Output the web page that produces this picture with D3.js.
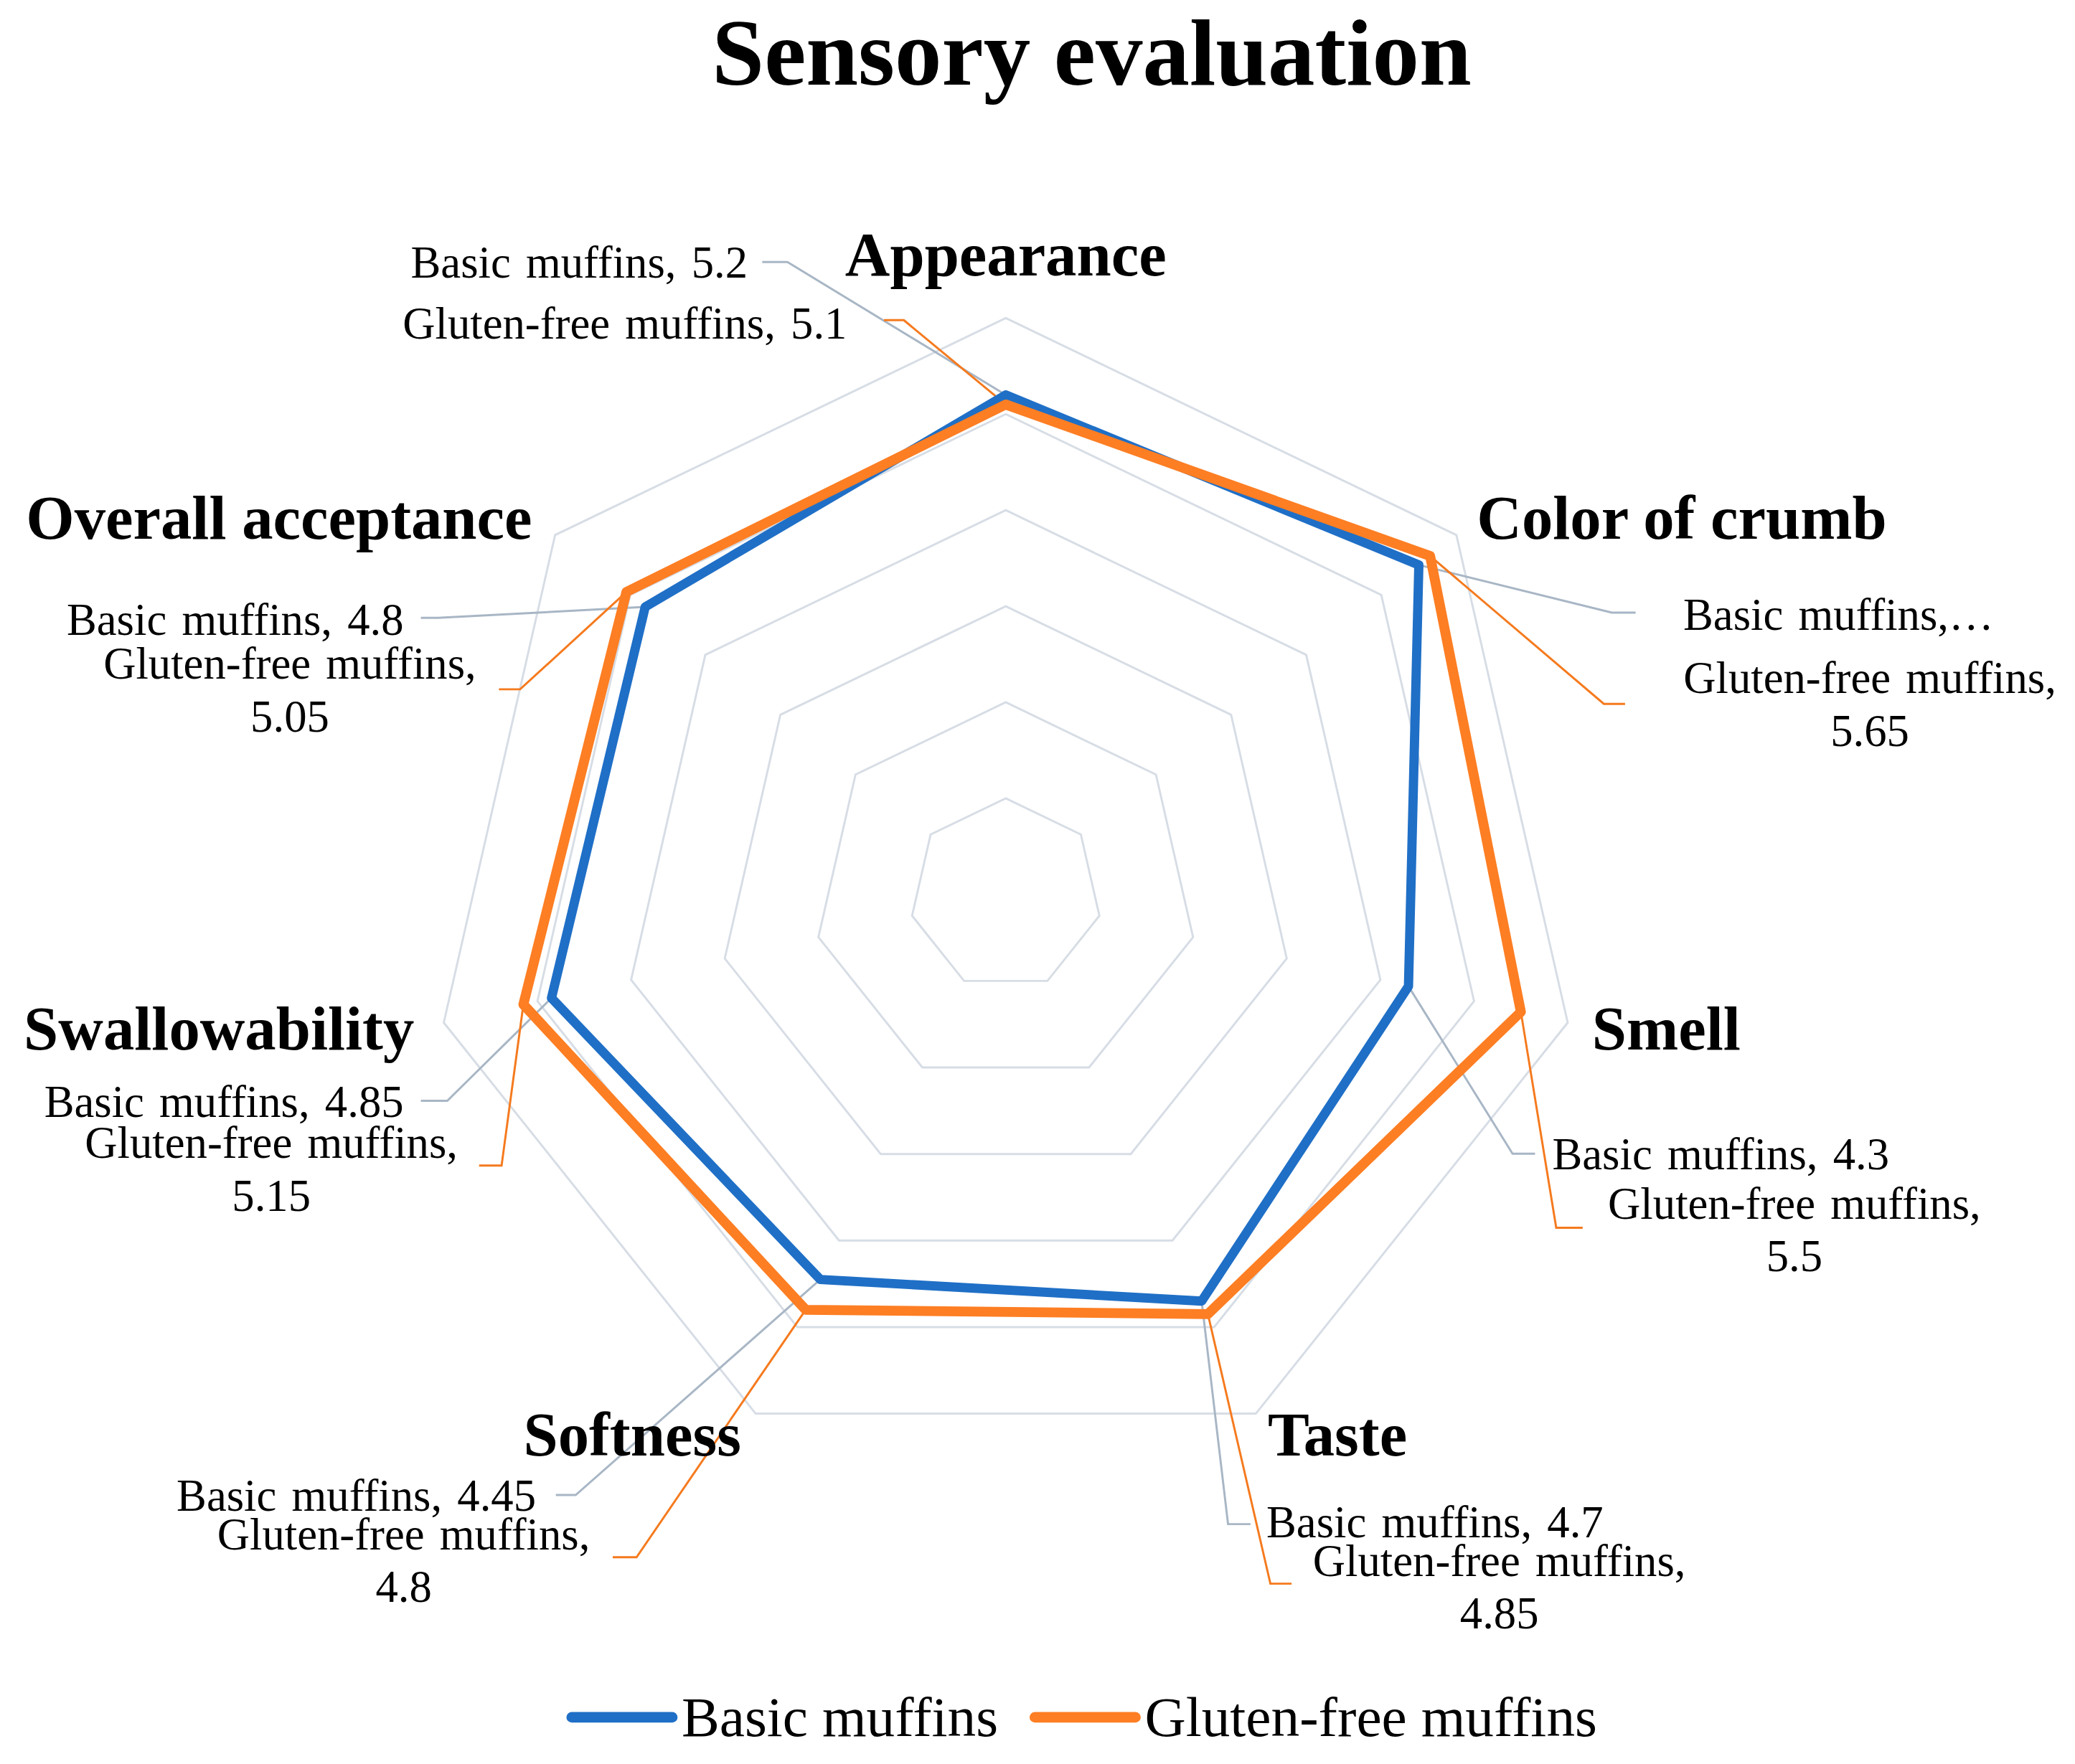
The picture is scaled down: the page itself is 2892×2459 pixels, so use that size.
<!DOCTYPE html>
<html>
<head>
<meta charset="utf-8">
<script src="https://cdn.jsdelivr.net/npm/d3@7"></script>
<style>
  html, body { margin: 0; padding: 0; background: #fff; }
  svg { display: block; }
  text { font-family: "Liberation Serif", "Times New Roman", serif; fill: #000; }
</style>
</head>
<body>
<svg id="chart"></svg>
<script>
// data
const categories = ["Appearance", "Color of crumb", "Smell", "Taste", "Softness", "Swallowability", "Overall acceptance"];
const seriesNames = ["Basic muffins", "Gluten-free muffins"];
const basicValues = [5.2, 5.5, 4.3, 4.7, 4.45, 4.85, 4.8];
const glutenFreeValues = [5.1, 5.65, 5.5, 4.85, 4.8, 5.15, 5.05];
const ringTicks = [1, 2, 3, 4, 5, 6];

// label placement (viewBox units), hand-placed like in the original sheet
// [textX, baselineY, anchor, leaderStartX, leaderStartY, elbowX]
const basicLabelPos = [
    [565, 210, "end", 576, 198, 595],
    [1272, 476, "start", 1236, 463, 1218],
    [1173, 884, "start", 1160, 872, 1143],
    [957, 1162, "start", 945, 1152, 928],
    [405, 1142, "end", 420, 1130, 435],
    [305, 844, "end", 318, 832, 338],
    [305, 480, "end", 318, 467, 331]
];
const gfLabelPos = [
    [640, 256, "end", 668, 242, 683],
    [1413, 524, "middle", 1228, 532, 1212],
    [1356, 921, "middle", 1196, 928, 1176],
    [1133, 1191, "middle", 976, 1197, 960],
    [305, 1171, "middle", 463, 1177, 481],
    [205, 875, "middle", 362, 881, 379],
    [219, 513, "middle", 377, 521, 393]
];
const catLabelPos = [
    [760, 208, "middle"], [1116, 407, "start"], [1203, 793, "start"], [958, 1100, "start"],
    [560, 1100, "end"], [313, 793, "end"], [402, 407, "end"]
];

const W = 1568, H = 1333.3;
const cx = 760, cy = 676;
const blue = "#1f6fc6", orange = "#fd7e23";

const svg = d3.select("#chart")
    .attr("width", 2892)
    .attr("height", 2459)
    .attr("viewBox", `0 0 ${W} ${H}`);

const rScale = d3.scaleLinear().domain([0, 6]).range([0, 435.6]);
const angle = d3.scaleLinear().domain([0, categories.length]).range([0, 2 * Math.PI]);

function pt(i, v) {
    const a = angle(i), r = rScale(v);
    return [cx + r * Math.sin(a), cy - r * Math.cos(a)];
}

const g = svg.append("g");

// grid rings
const ring = d3.lineRadial()
    .angle((d, i) => angle(i))
    .radius(d => rScale(d))
    .curve(d3.curveLinearClosed);

g.selectAll(".ring")
    .data(ringTicks)
    .join("path")
    .attr("transform", `translate(${cx},${cy})`)
    .attr("d", t => ring(categories.map(() => t)))
    .attr("fill", "none")
    .attr("stroke", "#d7dde5")
    .attr("stroke-width", 1.6);

// leader lines
const leader = d3.line();
function drawLeaders(values, pos, color, width) {
    g.selectAll(null)
        .data(values)
        .join("path")
        .attr("d", (v, i) => {
            const p = pos[i];
            return leader([[p[3], p[4]], [p[5], p[4]], pt(i, v)]);
        })
        .attr("fill", "none")
        .attr("stroke", color)
        .attr("stroke-width", width);
}
drawLeaders(basicValues, basicLabelPos, "#a8b6c5", 1.6);
drawLeaders(glutenFreeValues, gfLabelPos, "#f57a1e", 1.6);

// series polygons
const seriesLine = d3.lineRadial()
    .angle((d, i) => angle(i))
    .radius(d => rScale(d))
    .curve(d3.curveLinearClosed);

[[basicValues, blue, 7], [glutenFreeValues, orange, 7.5]].forEach(([vals, color, w]) => {
    g.append("path")
        .attr("transform", `translate(${cx},${cy})`)
        .attr("d", seriesLine(vals))
        .attr("fill", "none")
        .attr("stroke", color)
        .attr("stroke-width", w)
        .attr("stroke-linejoin", "round");
});

// category labels
g.selectAll(".cat")
    .data(categories)
    .join("text")
    .attr("x", (d, i) => catLabelPos[i][0])
    .attr("y", (d, i) => catLabelPos[i][1])
    .attr("text-anchor", (d, i) => catLabelPos[i][2])
    .style("font-size", "47px")
    .style("font-weight", "bold")
    .text(d => d);

// data labels
function drawLabels(values, pos, name) {
    values.forEach((v, i) => {
        const p = pos[i];
        let lines;
        if (name === seriesNames[0] && i === 1) lines = [`${name},\u2026`];
        else if (p[2] === "middle") lines = [`${name},`, `${v}`];
        else lines = [`${name}, ${v}`];
        const t = g.append("text")
            .attr("text-anchor", p[2])
            .style("font-size", "34px")
            .style("word-spacing", "3px");
        lines.forEach((s, k) => {
            t.append("tspan")
                .attr("x", p[0])
                .attr("y", p[1] + k * 40)
                .text(s);
        });
    });
}
drawLabels(basicValues, basicLabelPos, seriesNames[0]);
drawLabels(glutenFreeValues, gfLabelPos, seriesNames[1]);

// title
svg.append("text")
    .attr("x", 825)
    .attr("y", 64)
    .attr("text-anchor", "middle")
    .style("font-size", "71px")
    .style("font-weight", "bold")
    .text("Sensory evaluation");

// legend
const legendItems = [[seriesNames[0], blue, 432], [seriesNames[1], orange, 782]];
const legend = svg.append("g");
legendItems.forEach(([name, color, x]) => {
    legend.append("line")
        .attr("x1", x).attr("x2", x + 76)
        .attr("y1", 1298).attr("y2", 1298)
        .attr("stroke", color)
        .attr("stroke-width", 8)
        .attr("stroke-linecap", "round");
    legend.append("text")
        .attr("x", x + 83)
        .attr("y", 1312)
        .style("font-size", "43px")
        .text(name);
});
</script>
</body>
</html>
